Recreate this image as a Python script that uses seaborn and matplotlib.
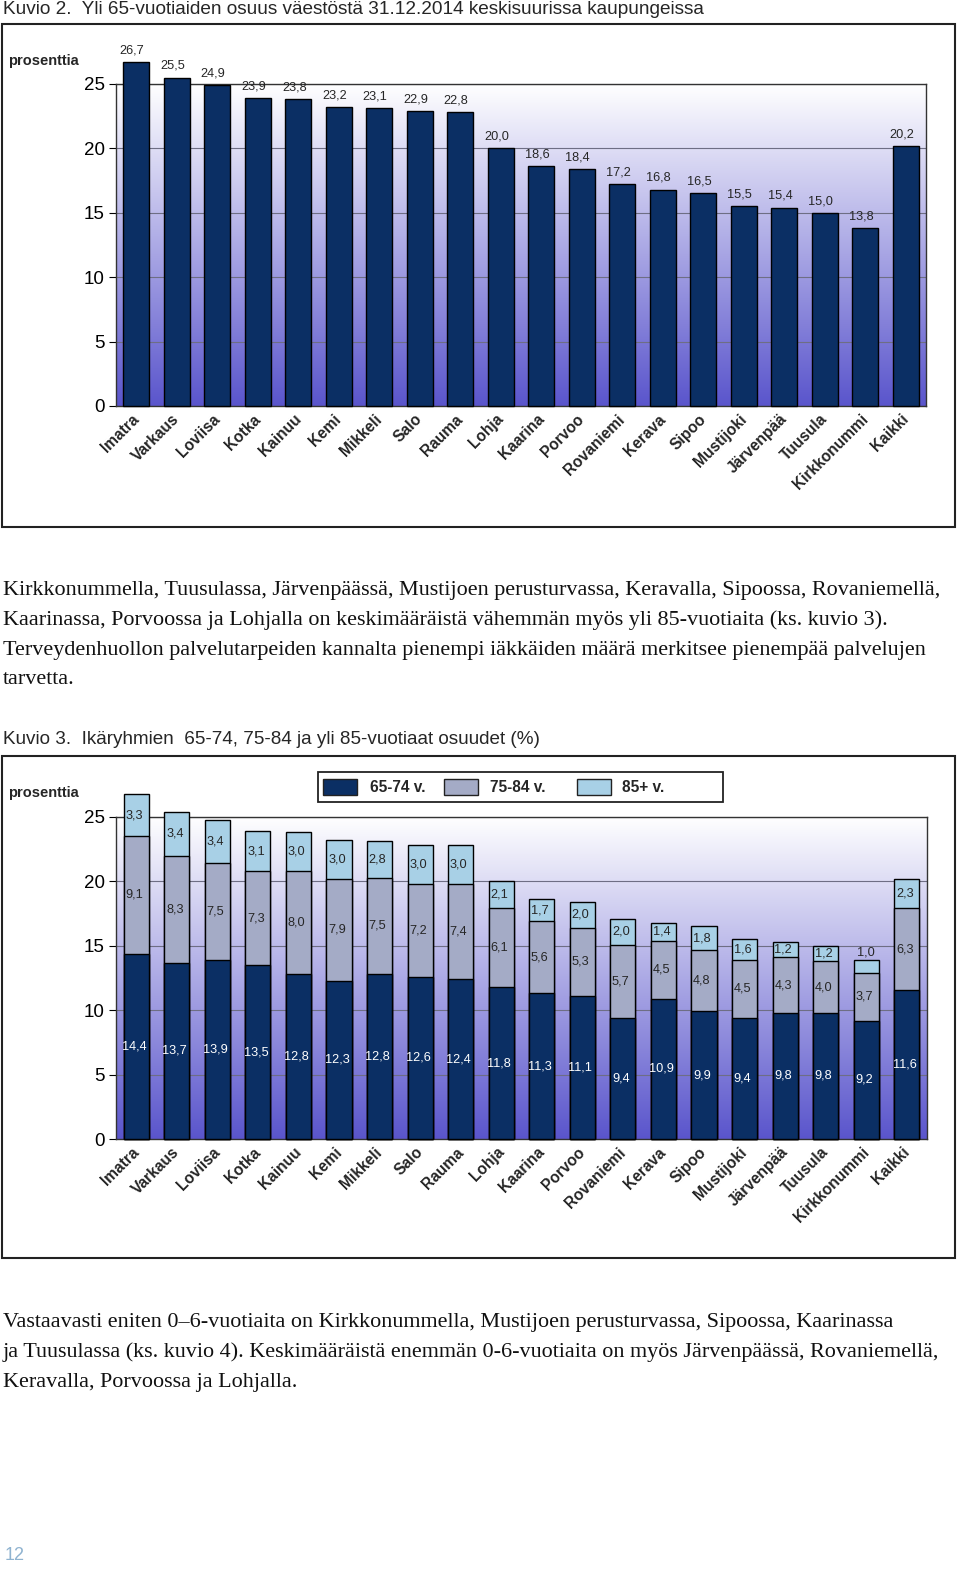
import matplotlib.patches as mpatches
import matplotlib.pyplot as plt
import matplotlib.transforms as mtransforms
import numpy as np
import pandas as pd
import seaborn as sns
from matplotlib.colors import LinearSegmentedColormap

# Data
kunnat = [
    "Imatra", "Varkaus", "Loviisa", "Kotka", "Kainuu", "Kemi", "Mikkeli",
    "Salo", "Rauma", "Lohja", "Kaarina", "Porvoo", "Rovaniemi", "Kerava",
    "Sipoo", "Mustijoki", "Järvenpää", "Tuusula", "Kirkkonummi", "Kaikki",
]
osuus_yli65 = [
    26.7, 25.5, 24.9, 23.9, 23.8, 23.2, 23.1, 22.9, 22.8, 20.0,
    18.6, 18.4, 17.2, 16.8, 16.5, 15.5, 15.4, 15.0, 13.8, 20.2,
]
ika_65_74 = [
    14.4, 13.7, 13.9, 13.5, 12.8, 12.3, 12.8, 12.6, 12.4, 11.8,
    11.3, 11.1, 9.4, 10.9, 9.9, 9.4, 9.8, 9.8, 9.2, 11.6,
]
ika_75_84 = [
    9.1, 8.3, 7.5, 7.3, 8.0, 7.9, 7.5, 7.2, 7.4, 6.1,
    5.6, 5.3, 5.7, 4.5, 4.8, 4.5, 4.3, 4.0, 3.7, 6.3,
]
ika_85 = [
    3.3, 3.4, 3.4, 3.1, 3.0, 3.0, 2.8, 3.0, 3.0, 2.1,
    1.7, 2.0, 2.0, 1.4, 1.8, 1.6, 1.2, 1.2, 1.0, 2.3,
]
ryhmat = ["65-74 v.", "75-84 v.", "85+ v."]
y_ticks = [0, 5, 10, 15, 20, 25]

# Colours
NAVY = "#0b2f64"
GREY = "#a4abc6"
LIGHT = "#a8d0e6"
bg_cmap = LinearSegmentedColormap.from_list("bg", ["#ffffff", "#5a55cc"])

W, H = 960, 1570
SANS = ["Liberation Sans", "DejaVu Sans"]
SERIF = ["Liberation Serif", "DejaVu Serif"]
LABEL_FS = 9.2


def fx(px):
    return px / W


def fy(py):
    return 1 - py / H


def fmt(v):
    return f"{v:.1f}".replace(".", ",")


def style_axes(ax):
    grad = np.linspace(0, 1, 256).reshape(-1, 1)
    ax.imshow(grad, cmap=bg_cmap, extent=[0, 1, 0, 1], transform=ax.transAxes,
              aspect="auto", zorder=0)
    ax.set_xlim(-0.5, len(kunnat) - 0.5)
    ax.set_ylim(0, 25)
    ax.set_yticks(y_ticks)
    ax.set_yticklabels([str(t) for t in y_ticks])
    ax.yaxis.grid(True, color="#6e6e84", linewidth=0.8)
    ax.xaxis.grid(False)
    ax.set_axisbelow(True)
    ax.tick_params(axis="y", labelsize=13.5, left=True, length=5, width=0.8,
                   direction="out", pad=3, colors="black")
    ax.tick_params(axis="x", length=0, pad=4)
    ax.set_xticks(range(len(kunnat)))
    ax.set_xticklabels(kunnat, rotation=45, ha="right", rotation_mode="anchor",
                       fontweight="bold", fontsize=11.2)
    shift = mtransforms.ScaledTranslation(-5 / 100, 0, fig.dpi_scale_trans)
    for lab in ax.get_xticklabels():
        lab.set_transform(lab.get_transform() + shift)
    ax.set_xlabel("")
    ax.set_ylabel("")
    for s in ax.spines.values():
        s.set_visible(True)
        s.set_color("#333333")
        s.set_linewidth(1.0)


def box(x0, y0, x1, y1, lw=1.5, face=None):
    fig.add_artist(mpatches.Rectangle((fx(x0), fy(y1)), fx(x1) - fx(x0), (y1 - y0) / H,
                                      transform=fig.transFigure, fill=face is not None,
                                      facecolor=face if face else "none",
                                      edgecolor="#222222", linewidth=lw))


sns.set_theme(style="white")
plt.rcParams["font.family"] = SANS

fig = plt.figure(figsize=(9.6, 15.7), dpi=100)

# --- Kuvio 2 ---
fig.text(fx(3), fy(9), "Kuvio 2.  Yli 65-vuotiaiden osuus väestöstä 31.12.2014 keskisuurissa kaupungeissa",
         fontsize=13.7, va="center", ha="left")
box(2, 24, 955, 527)
fig.text(fx(8), fy(61), "prosenttia", fontsize=10.5, fontweight="bold", va="center")

ax1 = fig.add_axes([fx(116), fy(406), fx(926) - fx(116), (406 - 84) / H])
df1 = pd.DataFrame({"kunta": kunnat, "osuus": osuus_yli65})
sns.barplot(data=df1, x="kunta", y="osuus", color=NAVY, saturation=1, edgecolor="black",
            linewidth=1, width=0.64, errorbar=None, ax=ax1, zorder=3, clip_on=False)
style_axes(ax1)
for i, v in enumerate(osuus_yli65):
    ax1.text(i - 0.1, v + 0.45, fmt(v), ha="center", va="bottom", fontsize=LABEL_FS)

# --- paragraph 1 ---
para1 = [
    "Kirkkonummella, Tuusulassa, Järvenpäässä, Mustijoen perusturvassa, Keravalla, Sipoossa, Rovaniemellä,",
    "Kaarinassa, Porvoossa ja Lohjalla on keskimääräistä vähemmän myös yli 85-vuotiaita (ks. kuvio 3).",
    "Terveydenhuollon palvelutarpeiden kannalta pienempi iäkkäiden määrä merkitsee pienempää palvelujen",
    "tarvetta.",
]
for k, line in enumerate(para1):
    fig.text(fx(3), fy(590 + 30 * k), line, family=SERIF, fontsize=15.9, va="center",
             color="#111111")

# --- Kuvio 3 ---
fig.text(fx(3), fy(740), "Kuvio 3.  Ikäryhmien  65-74, 75-84 ja yli 85-vuotiaat osuudet (%)",
         fontsize=13.6, va="center", ha="left")
box(2, 756, 955, 1258)
fig.text(fx(8), fy(793), "prosenttia", fontsize=10.5, fontweight="bold", va="center")

ax2 = fig.add_axes([fx(116), fy(1139), fx(927) - fx(116), (1139 - 817) / H])
df2 = pd.DataFrame({"kunta": kunnat, "a": ika_65_74, "b": ika_75_84, "c": ika_85})
df2["ab"] = df2["a"] + df2["b"]
df2["abc"] = df2["ab"] + df2["c"]
for col, colour in [("abc", LIGHT), ("ab", GREY), ("a", NAVY)]:
    sns.barplot(data=df2, x="kunta", y=col, color=colour, saturation=1, edgecolor="black",
                linewidth=1, width=0.62, errorbar=None, ax=ax2, zorder=3, clip_on=False)
style_axes(ax2)
for i, row in df2.iterrows():
    ax2.text(i - 0.05, row["a"] / 2, fmt(row["a"]), ha="center", va="center",
             fontsize=LABEL_FS, color="white", zorder=5)
    ax2.text(i - 0.05, row["a"] + row["b"] / 2, fmt(row["b"]), ha="center", va="center",
             fontsize=LABEL_FS, zorder=5)
    if row["c"] >= 1.1:
        ax2.text(i - 0.05, row["ab"] + row["c"] / 2, fmt(row["c"]), ha="center",
                 va="center", fontsize=LABEL_FS, zorder=5)
    else:
        ax2.text(i, row["abc"] + 0.15, fmt(row["c"]), ha="center", va="bottom",
                 fontsize=LABEL_FS, zorder=5)

# legend box drawn by hand to match the original spacing
box(318, 772, 723, 802, lw=1.3, face="white")
for (px0, tx), colour, label in zip([(323, 370), (444, 490), (577, 622)],
                                    [NAVY, GREY, LIGHT], ryhmat):
    box(px0, 779, px0 + 34, 795, lw=1.0, face=colour)
    fig.text(fx(tx), fy(787), label, fontsize=11.2, fontweight="bold", va="center")

# --- paragraph 2 ---
para2 = [
    "Vastaavasti eniten 0–6-vuotiaita on Kirkkonummella, Mustijoen perusturvassa, Sipoossa, Kaarinassa",
    "ja Tuusulassa (ks. kuvio 4). Keskimääräistä enemmän 0-6-vuotiaita on myös Järvenpäässä, Rovaniemellä,",
    "Keravalla, Porvoossa ja Lohjalla.",
]
for k, line in enumerate(para2):
    fig.text(fx(3), fy(1322 + 30 * k), line, family=SERIF, fontsize=15.9, va="center",
             color="#111111")

fig.text(fx(5), fy(1556), "12", fontsize=13, color="#8fb3d0", va="center")

fig.savefig("out.png", dpi=100)
plt.close(fig)
